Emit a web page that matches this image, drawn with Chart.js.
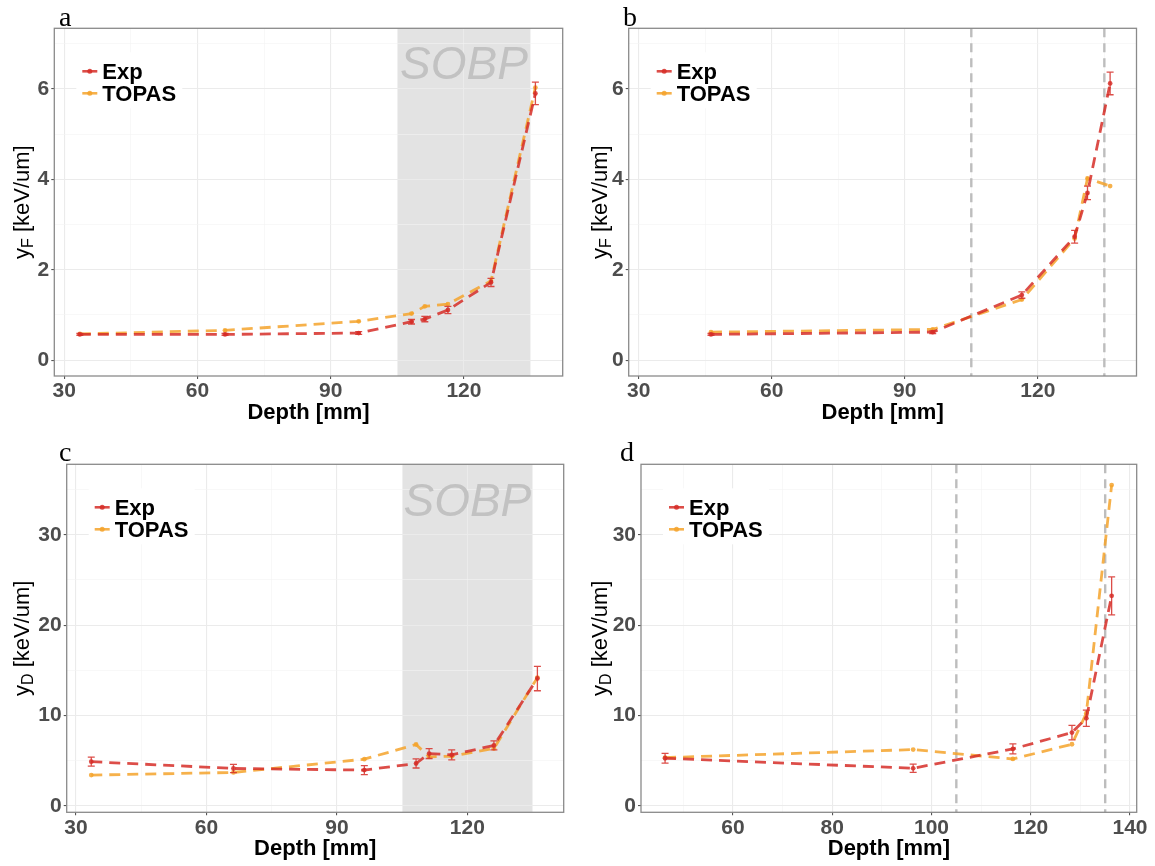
<!DOCTYPE html>
<html>
<head>
<meta charset="utf-8">
<title>Lineal energy vs depth</title>
<script src="https://cdn.jsdelivr.net/npm/chart.js@4.4.1/dist/chart.umd.min.js"></script>
<style>
  body { margin: 0; background: #fff; }
  #wrap { position: relative; width: 1155px; height: 866px; }
  canvas { position: absolute; }
</style>
</head>
<body>
<div id="wrap">
  <canvas id="pa" width="578" height="435" style="left:0;top:0;width:578px;height:435px"></canvas>
  <canvas id="pb" width="577" height="435" style="left:578px;top:0;width:577px;height:435px"></canvas>
  <canvas id="pc" width="578" height="431" style="left:0;top:435px;width:578px;height:431px"></canvas>
  <canvas id="pd" width="577" height="431" style="left:578px;top:435px;width:577px;height:431px"></canvas>
</div>
<script>
// measurement depths [mm]
const depthSOBP = [33.5, 66.2, 96.3, 108.2, 111.2, 116.4, 126.1, 136.1];
const depthPeak = [46.3, 96.3, 116.4, 128.3, 131.2, 136.3];

// frequency-mean lineal energy y_F [keV/um]
const yfExpSOBP    = [0.57, 0.57, 0.60, 0.85, 0.91, 1.11, 1.72, 5.90];
const yfExpSOBPErr = [0.02, 0.02, 0.03, 0.05, 0.06, 0.08, 0.09, 0.25];
const yfTopasSOBP  = [0.58, 0.66, 0.86, 1.03, 1.19, 1.24, 1.75, 6.03];
const yfExpPeak    = [0.57, 0.62, 1.44, 2.73, 3.70, 6.12];
const yfExpPeakErr = [0.02, 0.03, 0.07, 0.14, 0.15, 0.25];
const yfTopasPeak  = [0.62, 0.68, 1.34, 2.69, 4.02, 3.85];

// dose-mean lineal energy y_D [keV/um]
const ydExpSOBP    = [4.90, 4.15, 3.97, 4.70, 5.80, 5.65, 6.70, 14.1];
const ydExpSOBPErr = [0.50, 0.45, 0.50, 0.50, 0.55, 0.55, 0.50, 1.35];
const ydTopasSOBP  = [3.42, 3.71, 5.18, 6.80, 5.44, 5.50, 6.36, 14.2];
const ydExpPeak    = [5.28, 4.17, 6.31, 8.12, 9.70, 23.25];
const ydExpPeakErr = [0.55, 0.45, 0.55, 0.80, 0.90, 2.10];
const ydTopasPeak  = [5.35, 6.24, 5.20, 6.83, 10.26, 35.5];

// axis ticks
const xMajor  = [30, 60, 90, 120];
const xMinor  = [45, 75, 105, 135];
const xMajorD = [60, 80, 100, 120, 140];
const xMinorD = [50, 70, 90, 110, 130];
const yMajorF = [0, 2, 4, 6];
const yMinorF = [1, 3, 5, 7];
const yMajorD = [0, 10, 20, 30];
const yMinorD = [5, 15, 25, 35];

// SOBP region / distal markers [mm]
const sobpRange = [105, 135];

const RED = 'rgba(214,46,40,0.85)';
const ORANGE = 'rgba(244,163,44,0.85)';
const SANS = "'Liberation Sans', Arial, sans-serif";

const panelDeco = {
  id: 'panelDeco',
  beforeDraw(chart, args, o) {
    const { ctx, chartArea: a, scales: { x } } = chart;
    if (o.band) {
      const x0 = x.getPixelForValue(sobpRange[0]);
      const x1 = x.getPixelForValue(sobpRange[1]);
      ctx.save();
      ctx.fillStyle = '#e3e3e3';
      ctx.fillRect(x0, a.top, x1 - x0, a.bottom - a.top);
      ctx.restore();
    }
  },
  beforeDatasetsDraw(chart, args, o) {
    const { ctx, chartArea: a, scales: { x, y } } = chart;
    ctx.save();
    if (o.band) {
      ctx.fillStyle = '#c2c2c2';
      ctx.font = 'italic 46px ' + SANS;
      ctx.textAlign = 'center';
      ctx.textBaseline = 'alphabetic';
      ctx.fillText('SOBP', x.getPixelForValue((sobpRange[0] + sobpRange[1]) / 2), y.getPixelForValue(o.labelY));
    }
    if (o.markers) {
      ctx.strokeStyle = '#bdbdbd';
      ctx.lineWidth = 2.4;
      ctx.setLineDash([9, 6]);
      sobpRange.forEach(v => {
        const px = x.getPixelForValue(v);
        ctx.beginPath();
        ctx.moveTo(px, a.top);
        ctx.lineTo(px, a.bottom);
        ctx.stroke();
      });
    }
    ctx.restore();
  },
  afterDatasetsDraw(chart) {
    const { ctx, scales: { x, y } } = chart;
    ctx.save();
    chart.data.datasets.forEach(ds => {
      if (!ds.errors) return;
      ctx.strokeStyle = ds.borderColor;
      ctx.lineWidth = 1.3;
      ds.data.forEach((p, i) => {
        const e = ds.errors[i];
        const px = x.getPixelForValue(p.x);
        const y0 = y.getPixelForValue(p.y - e);
        const y1 = y.getPixelForValue(p.y + e);
        ctx.beginPath();
        ctx.moveTo(px, y0); ctx.lineTo(px, y1);
        ctx.moveTo(px - 3.5, y0); ctx.lineTo(px + 3.5, y0);
        ctx.moveTo(px - 3.5, y1); ctx.lineTo(px + 3.5, y1);
        ctx.stroke();
      });
    });
    ctx.restore();
  },
  afterDraw(chart, args, o) {
    const { ctx, chartArea: a } = chart;
    ctx.save();
    // panel frame
    ctx.strokeStyle = '#8a8a8a';
    ctx.lineWidth = 1.3;
    ctx.strokeRect(a.left, a.top, a.right - a.left, a.bottom - a.top);

    // legend
    const lx = a.left + 22, ly = a.top + 24;
    ctx.fillStyle = '#fff';
    ctx.fillRect(lx, ly, 106, 56);
    chart.data.datasets.forEach((ds, i) => {
      const ry = a.top + 43 + i * 22;
      ctx.strokeStyle = ds.borderColor;
      ctx.lineWidth = 2.6;
      ctx.beginPath();
      ctx.moveTo(a.left + 28, ry);
      ctx.lineTo(a.left + 43, ry);
      ctx.stroke();
      ctx.fillStyle = ds.borderColor;
      ctx.beginPath();
      ctx.arc(a.left + 35.5, ry, 2.5, 0, Math.PI * 2);
      ctx.fill();
      ctx.fillStyle = '#000';
      ctx.font = 'bold 22px ' + SANS;
      ctx.textAlign = 'left';
      ctx.textBaseline = 'alphabetic';
      ctx.fillText(ds.label, a.left + 48, ry + 8);
    });

    // panel letter
    ctx.fillStyle = '#000';
    ctx.font = "28px 'Liberation Serif', 'DejaVu Serif', serif";
    ctx.textAlign = 'left';
    ctx.fillText(o.letter, o.letterX, 26);

    // y axis title with subscript
    const cy = (a.top + a.bottom) / 2;
    ctx.translate(29, cy);
    ctx.rotate(-Math.PI / 2);
    const big = '22px ' + SANS, small = '16px ' + SANS;
    ctx.font = big;
    const w1 = ctx.measureText('y').width;
    const w3 = ctx.measureText(' [keV/um]').width;
    ctx.font = small;
    const w2 = ctx.measureText(o.sub).width;
    let tx = -(w1 + w2 + w3) / 2;
    ctx.fillStyle = '#000';
    ctx.font = big;
    ctx.fillText('y', tx, 0);
    tx += w1;
    ctx.font = small;
    ctx.fillText(o.sub, tx, 4);
    tx += w2;
    ctx.font = big;
    ctx.fillText(' [keV/um]', tx, 0);
    ctx.restore();
  }
};

function axis(min, max, major, minor, fixedSize, horizontal) {
  const all = major.concat(minor).sort((p, q) => p - q);
  return {
    type: 'linear',
    min: min,
    max: max,
    afterBuildTicks: s => { s.ticks = all.map(v => ({ value: v, major: major.includes(v) })); },
    afterFit: s => { if (horizontal) s.height = fixedSize; else s.width = fixedSize; },
    border: { display: false },
    grid: {
      color: c => c.tick && c.tick.major ? '#ebebeb' : '#f3f3f3',
      lineWidth: c => c.tick && c.tick.major ? 1.1 : 0.6,
      tickColor: c => c.tick && c.tick.major ? '#555' : 'rgba(0,0,0,0)',
      tickLength: 3
    },
    ticks: {
      autoSkip: false,
      maxRotation: 0,
      padding: horizontal ? 0 : 2,
      color: '#4d4d4d',
      font: { family: SANS, size: 21, weight: 'bold' },
      callback: v => major.includes(v) ? String(v) : ''
    }
  };
}

function panel(id, p) {
  const canvas = document.getElementById(id);
  const W = canvas.width, H = canvas.height;
  const mk = (vals) => p.depth.map((d, i) => ({ x: d, y: vals[i] }));
  const line = (label, color, vals, errs) => ({
    label: label,
    data: mk(vals),
    errors: errs,
    borderColor: color,
    backgroundColor: color,
    borderWidth: 2.8,
    borderDash: [11, 7],
    pointRadius: 2.4,
    pointBorderWidth: 0,
    pointHoverRadius: 2.4,
    tension: 0
  });
  const xTitlePad = H - (p.area.b + 37) - 13.2;
  const xAx = axis(p.x[0], p.x[1], p.xMajor, p.xMinor, H - p.area.b, true);
  xAx.title = { display: true, text: 'Depth [mm]', color: '#000', font: { family: SANS, size: 22, weight: 'bold' }, padding: { top: 0, bottom: xTitlePad } };
  return new Chart(canvas, {
    type: 'line',
    data: {
      datasets: [
        line('Exp', RED, p.exp, p.err),
        line('TOPAS', ORANGE, p.topas, null)
      ]
    },
    options: {
      responsive: false,
      animation: false,
      devicePixelRatio: 1,
      layout: { padding: { left: 0, top: p.area.t, right: W - p.area.r, bottom: 0 } },
      scales: {
        x: xAx,
        y: axis(p.y[0], p.y[1], p.yMajor, p.yMinor, p.area.l, false)
      },
      plugins: {
        legend: { display: false },
        tooltip: { enabled: false },
        panelDeco: { letter: p.letter, letterX: p.letterX, sub: p.sub, band: p.band, markers: p.markers, labelY: p.labelY }
      }
    },
    plugins: [panelDeco]
  });
}

panel('pa', {
  letter: 'a', letterX: 59, sub: 'F', band: true, markers: false, labelY: 6.22,
  area: { l: 54.3, t: 28.3, r: 562.7, b: 376 },
  x: [27.75, 142.25], xMajor: xMajor, xMinor: xMinor,
  y: [-0.35, 7.34], yMajor: yMajorF, yMinor: yMinorF,
  depth: depthSOBP, exp: yfExpSOBP, err: yfExpSOBPErr, topas: yfTopasSOBP
});

panel('pb', {
  letter: 'b', letterX: 45, sub: 'F', band: false, markers: true,
  area: { l: 50.7, t: 28.3, r: 558.5, b: 376 },
  x: [27.75, 142.25], xMajor: xMajor, xMinor: xMinor,
  y: [-0.35, 7.34], yMajor: yMajorF, yMinor: yMinorF,
  depth: depthPeak, exp: yfExpPeak, err: yfExpPeakErr, topas: yfTopasPeak
});

panel('pc', {
  letter: 'c', letterX: 59, sub: 'D', band: true, markers: false, labelY: 32.1,
  area: { l: 66.7, t: 29.3, r: 563.7, b: 377.3 },
  x: [27.85, 142.15], xMajor: xMajor, xMinor: xMinor,
  y: [-0.7, 37.8], yMajor: yMajorD, yMinor: yMinorD,
  depth: depthSOBP, exp: ydExpSOBP, err: ydExpSOBPErr, topas: ydTopasSOBP
});

panel('pd', {
  letter: 'd', letterX: 42, sub: 'D', band: false, markers: true,
  area: { l: 63, t: 29.3, r: 558.7, b: 377.3 },
  x: [41.45, 141.35], xMajor: xMajorD, xMinor: xMinorD,
  y: [-0.7, 37.8], yMajor: yMajorD, yMinor: yMinorD,
  depth: depthPeak, exp: ydExpPeak, err: ydExpPeakErr, topas: ydTopasPeak
});
</script>
</body>
</html>
